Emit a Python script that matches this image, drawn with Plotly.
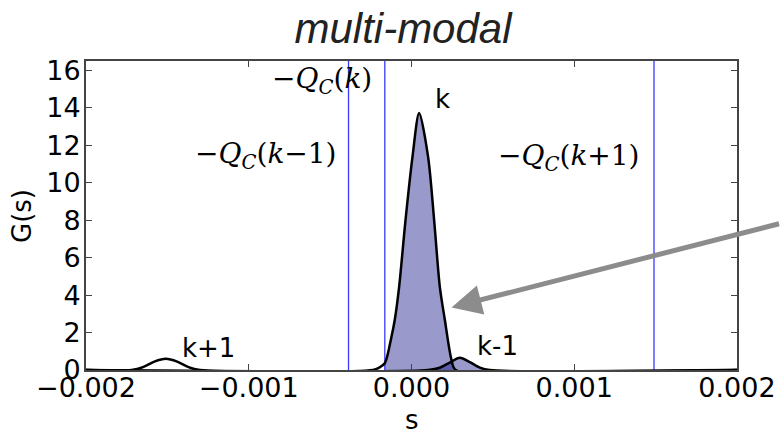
import plotly.graph_objects as go

# ---- data ----
k_s = [-0.002, -0.000236, -0.000200, -0.000164, -0.000123, -0.000103, -0.000076, -0.000038,
       0.000006, 0.000047, 0.000102, 0.000140, 0.000174, 0.000205, 0.000246, 0.000272, 0.002]
k_g = [0.0, 0.0, 0.12, 0.36, 1.78, 2.67, 4.44, 7.9, 11.38, 13.72, 11.38, 7.9, 4.44, 2.67, 0.53, 0.0, 0.0]

km1_s = [-0.002, 0.000102, 0.000174, 0.000235, 0.000297, 0.000358, 0.000420, 0.000481, 0.002]
km1_g = [0.0, 0.0, 0.12, 0.40, 0.65, 0.42, 0.13, 0.0, 0.0]

kp1_s = [-0.002, -0.00172, -0.00165, -0.00158, -0.00151, -0.00144, -0.00137, -0.00130, 0.002]
kp1_g = [0.0, 0.0, 0.15, 0.45, 0.60, 0.45, 0.15, 0.0, 0.0]

thresholds = [-0.000387, -0.000164, 0.00149]
fill_from = -0.000164

x_ticks = [-0.002, -0.001, 0.0, 0.001, 0.002]
x_tick_text = ["\u22120.002", "\u22120.001", "0.000", "0.001", "0.002"]
y_ticks = [0, 2, 4, 6, 8, 10, 12, 14, 16]

FILL = "rgba(0,0,128,0.4)"

fig = go.Figure()

# filled parts (right of -Q_C(k))
for xs, ys in [(k_s, k_g), (km1_s, km1_g)]:
    fx = [x for x in xs if x >= fill_from]
    fy = [y for x, y in zip(xs, ys) if x >= fill_from]
    fig.add_trace(go.Scatter(x=fx, y=fy, mode="lines", fill="tozeroy", fillcolor=FILL,
                             line=dict(width=0, shape="spline", smoothing=0.8),
                             hoverinfo="skip", showlegend=False))

# threshold lines
for t in thresholds:
    fig.add_trace(go.Scatter(x=[t, t], y=[0, 16.5], mode="lines",
                             line=dict(color="#3a3aff", width=1.3), showlegend=False))

# curves
for xs, ys in [(k_s, k_g), (km1_s, km1_g), (kp1_s, kp1_g)]:
    fig.add_trace(go.Scatter(x=xs, y=ys, mode="lines",
                             line=dict(color="black", width=2.5, shape="spline", smoothing=0.8),
                             showlegend=False))

tick_font = dict(family="DejaVu Sans", size=27, color="black")
axis_common = dict(showline=True, linecolor="#444", linewidth=2, mirror="ticks",
                   ticks="inside", ticklen=6, tickwidth=1, tickcolor="#444",
                   showgrid=False, zeroline=False, tickfont=tick_font, automargin=False)

fig.update_layout(
    width=781, height=436,
    margin=dict(l=86, r=44, t=61, b=66),
    paper_bgcolor="white", plot_bgcolor="white",
    title=dict(text="<i>multi-modal</i>", x=403 / 781, xref="container", xanchor="center",
               y=1 - 28 / 436, yref="container", yanchor="middle",
               font=dict(family="Liberation Sans", size=42, color="#222")),
    xaxis=dict(range=[-0.002, 0.002], tickvals=x_ticks, ticktext=x_tick_text,
               ticklabelstandoff=-7, **axis_common),
    yaxis=dict(range=[0, 16.5], tickvals=y_ticks, ticklabelstandoff=-2, **axis_common),
)

lab_font = dict(family="DejaVu Sans", size=26, color="black")
math_font = dict(family="DejaVu Serif", size=28, color="black")
anns = [
    dict(x=0.000131, y=14.45, text="k", xanchor="left", font=lab_font),
    dict(x=-0.001425, y=1.15, text="k+1", xanchor="left", font=lab_font),
    dict(x=0.000389, y=1.28, text="k-1", xanchor="left", font=lab_font),
    dict(x=-0.00055, y=15.47, text="\u2212<i>Q</i><sub><i>C</i></sub>(<i>k</i>)", xanchor="center", font=math_font),
    dict(x=-0.000891, y=11.47, text="\u2212<i>Q</i><sub><i>C</i></sub>(<i>k</i>\u22121)", xanchor="center", font=math_font),
    dict(x=0.000967, y=11.36, text="\u2212<i>Q</i><sub><i>C</i></sub>(<i>k</i>+1)", xanchor="center", font=math_font),
]
for a in anns:
    fig.add_annotation(xref="x", yref="y", showarrow=False, yanchor="middle", **a)

# axis titles
fig.add_annotation(xref="paper", yref="paper", x=0.5, y=-(420 - 370) / 309, text="s",
                   showarrow=False, xanchor="center", yanchor="middle",
                   font=dict(family="DejaVu Sans", size=26, color="black"))
fig.add_annotation(xref="paper", yref="paper", x=-(86 - 22) / 651, y=(370 - 216) / 309, text="G(s)",
                   textangle=-90, showarrow=False, xanchor="center", yanchor="middle",
                   font=dict(family="DejaVu Sans", size=26, color="black"))

# arrow
fig.add_annotation(xref="x", yref="y", x=(451.7 - 411.7) / 162.7 * 0.001, y=(370 - 307.3) / 18.75,
                   ax=329, ay=-84, axref="pixel", ayref="pixel", text="", showarrow=True,
                   arrowhead=2, arrowsize=1.2, arrowwidth=5, arrowcolor="#8c8c8c")

fig.write_html("out.html")
